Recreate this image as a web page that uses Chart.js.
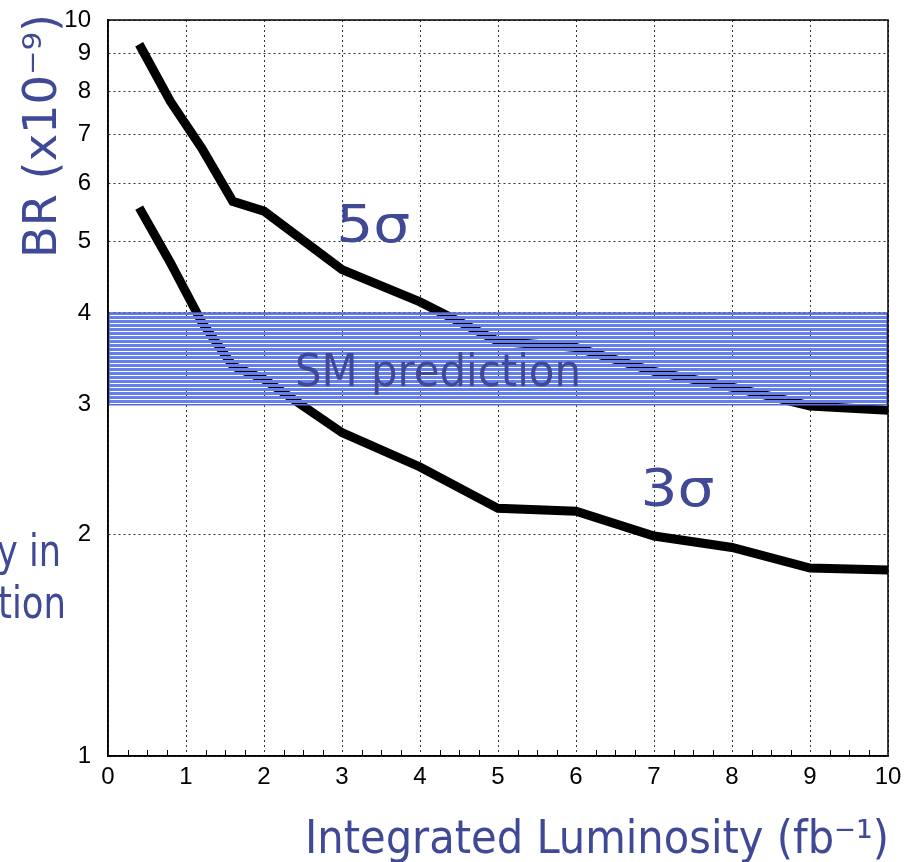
<!DOCTYPE html>
<html>
<head>
<meta charset="utf-8">
<script src="https://cdn.jsdelivr.net/npm/chart.js@4.4.0/dist/chart.umd.min.js"></script>
<style>
  body { margin: 0; background: #fff; }
  canvas { display: block; }
</style>
</head>
<body>
<canvas id="grafica" width="907" height="862"></canvas>
<script>
// datos
const lumi = [0.4, 0.8, 1.2, 1.6, 2, 3, 4, 5, 6, 7, 8, 9, 10];
const sigma5 = [9.27, 7.75, 6.7, 5.67, 5.5, 4.58, 4.14, 3.66, 3.59, 3.33, 3.17, 2.99, 2.95];
const sigma3 = [5.56, 4.68, 3.89, 3.39, 3.25, 2.75, 2.47, 2.17, 2.15, 1.99, 1.92, 1.8, 1.79];
const smBand = [3, 4]; // SM prediction range
const bandX = [0, 10];
const xTicks = [0, 1, 2, 3, 4, 5, 6, 7, 8, 9, 10];
const yTicks = [1, 2, 3, 4, 5, 6, 7, 8, 9, 10];

const azul = "#404996";
const titleFont = '"DejaVu Sans Condensed", "DejaVu Sans", sans-serif';

// patron de rayas para la banda
const pc = document.createElement("canvas");
pc.width = 8;
pc.height = 4;
const pctx = pc.getContext("2d");
pctx.fillStyle = "#6580ec";
pctx.fillRect(0, 0, 8, 3);
const ctx = document.getElementById("grafica");
const rayas = ctx.getContext("2d").createPattern(pc, "repeat");

function toPts(xs, ys) {
  return xs.map((x, i) => ({ x: x, y: ys[i] }));
}

function fitText(c, text, x, y, size, width, align) {
  c.font = size + "px " + titleFont;
  const w = c.measureText(text).width;
  const s = width / w;
  c.save();
  c.translate(x, y);
  c.scale(s, 1);
  c.textAlign = align;
  c.fillText(text, 0, 0);
  c.restore();
}

const extras = {
  id: "extras",
  afterDraw(chart) {
    const c = chart.ctx;
    const a = chart.chartArea;
    const xs = chart.scales.x;
    const ys = chart.scales.y;
    c.save();
    // bordes laterales de la banda
    c.strokeStyle = "#5a6dd0";
    c.lineWidth = 1.5;
    const bt = ys.getPixelForValue(smBand[1]);
    const bb = ys.getPixelForValue(smBand[0]);
    [bandX[0], bandX[1]].forEach((v) => {
      const px = xs.getPixelForValue(v) + (v === bandX[0] ? 1 : -1);
      c.beginPath();
      c.moveTo(px, bt);
      c.lineTo(px, bb);
      c.stroke();
    });
    // marco
    c.strokeStyle = "#000";
    c.lineWidth = 1.5;
    c.strokeRect(a.left, a.top, a.right - a.left, a.bottom - a.top);
    // ticks menores en x
    c.lineWidth = 1;
    for (let v = 0.25; v < 10; v += 0.25) {
      if (Math.abs(v - Math.round(v)) < 0.01) continue;
      const px = Math.round(xs.getPixelForValue(v)) + 0.5;
      c.beginPath();
      c.moveTo(px, a.bottom);
      c.lineTo(px, a.bottom - 6);
      c.stroke();
    }
    // textos
    c.fillStyle = azul;
    c.textBaseline = "alphabetic";
    fitText(c, "5σ", xs.getPixelForValue(3.4), 242, 52, 74, "center");
    fitText(c, "3σ", xs.getPixelForValue(7.3), 506, 52, 74, "center");
    fitText(c, "SM prediction", xs.getPixelForValue(4.23), 386, 44, 286, "center");
    fitText(c, "Integrated Luminosity (fb⁻¹)", 889, 853, 46, 584, "right");
    fitText(c, "y in", 61, 566, 44, 64, "right");
    fitText(c, "tion", 66, 618, 44, 68, "right");
    // titulo eje y
    c.save();
    c.translate(56, 258);
    c.rotate(-Math.PI / 2);
    fitText(c, "BR (x10⁻⁹)", 0, 0, 46, 244, "left");
    c.restore();
    c.restore();
  },
};

new Chart(ctx, {
  type: "line",
  data: {
    datasets: [
      {
        label: "SM hi",
        data: toPts(bandX, [smBand[1], smBand[1]]),
        borderColor: "#5a6dd0",
        borderWidth: 1.5,
        pointRadius: 0,
        fill: false,
        order: 0,
      },
      {
        label: "SM lo",
        data: toPts(bandX, [smBand[0], smBand[0]]),
        borderColor: "#5a6dd0",
        borderWidth: 1.5,
        backgroundColor: rayas,
        pointRadius: 0,
        fill: "-1",
        order: 0,
      },
      {
        label: "5 sigma",
        data: toPts(lumi, sigma5),
        borderColor: "black",
        borderWidth: 9,
        pointRadius: 0,
        fill: false,
        order: 1,
      },
      {
        label: "3 sigma",
        data: toPts(lumi, sigma3),
        borderColor: "black",
        borderWidth: 9,
        pointRadius: 0,
        fill: false,
        order: 1,
      },
    ],
  },
  options: {
    responsive: false,
    animation: false,
    layout: { padding: { top: 20, right: 19, left: 0, bottom: 0 } },
    plugins: {
      legend: { display: false },
      tooltip: { enabled: false },
    },
    scales: {
      x: {
        type: "linear",
        min: 0,
        max: 10,
        afterBuildTicks: (s) => { s.ticks = xTicks.map((v) => ({ value: v })); },
        afterFit: (s) => {
          s.height = 106;
          s.paddingLeft = 0;
          s.paddingRight = 0;
        },
        ticks: {
          color: "#000",
          font: { family: "Liberation Sans", size: 24 },
          padding: 7,
          maxRotation: 0,
          autoSkip: false,
        },
        grid: {
          color: "#333",
          lineWidth: 1,
          drawTicks: false,
        },
        border: { color: "#000", width: 1.5, dash: [2, 3] },
      },
      y: {
        type: "logarithmic",
        min: 1,
        max: 10,
        afterBuildTicks: (s) => { s.ticks = yTicks.map((v) => ({ value: v })); },
        afterFit: (s) => {
          s.width = 108;
          s.paddingTop = 0;
          s.paddingBottom = 0;
        },
        ticks: {
          color: "#000",
          font: { family: "Liberation Sans", size: 24 },
          padding: 17,
          autoSkip: false,
          callback: (v) => String(v),
        },
        grid: {
          color: "#333",
          lineWidth: 1,
          drawTicks: false,
        },
        border: { color: "#000", width: 1.5, dash: [2, 3] },
      },
    },
  },
  plugins: [extras],
});
</script>
</body>
</html>
